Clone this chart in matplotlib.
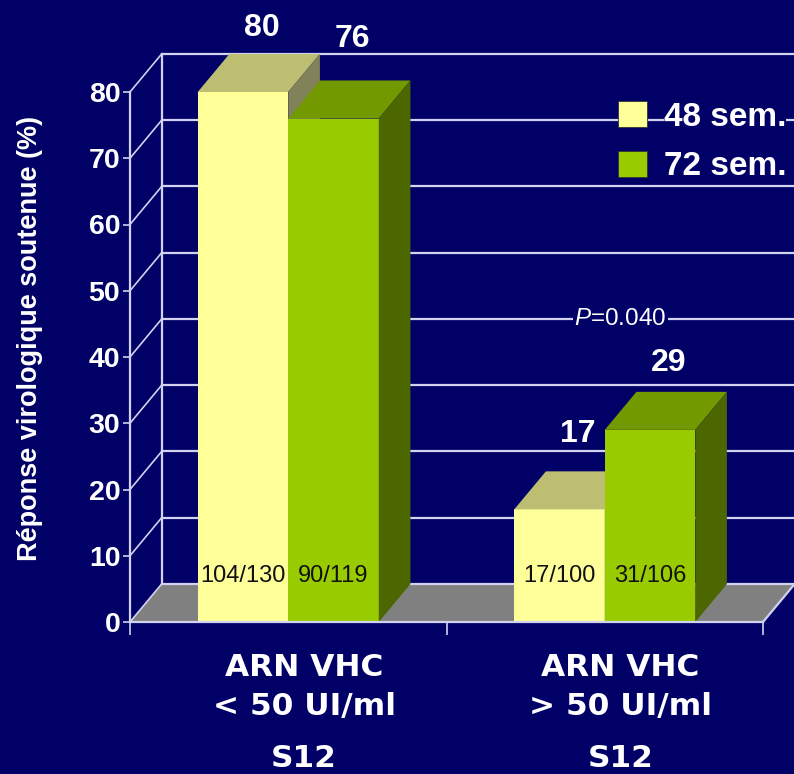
import matplotlib.pyplot as plt
from matplotlib.patches import Polygon, Patch

# response rates (%) per duration group, two viral-load groups
groups = ['ARN VHC\n< 50 UI/ml', 'ARN VHC\n> 50 UI/ml']
group_tags = ['S12', 'S12']
series = ['48 sem.', '72 sem.']
rate_48 = [80, 17]
rate_72 = [76, 29]
counts_48 = ['104/130', '17/100']
counts_72 = ['90/119', '31/106']
yticks = [0, 10, 20, 30, 40, 50, 60, 70, 80]
p_value = '0.040'

NAVY = '#000066'
LINE = '#D2D2F0'
# front, top, side shades for each series
shades = [('#FFFF99', '#BEBE73', '#82825A'),
          ('#99CC00', '#739900', '#4C6600')]
rates = [rate_48, rate_72]
counts = [counts_48, counts_72]
# label lift above the top face, in points
lift = [[8, 16], [19, 10]]

plt.rcParams['font.family'] = ['Liberation Sans', 'DejaVu Sans']
plt.rcParams['mathtext.fontset'] = 'custom'
plt.rcParams['mathtext.it'] = 'Liberation Sans:italic'
plt.rcParams['mathtext.rm'] = 'Liberation Sans'

fig = plt.figure(figsize=(7.94, 7.74), dpi=100, facecolor=NAVY)
ax = fig.add_axes([130 / 794, 152 / 774, 633 / 794, 530 / 774])
ax.set_facecolor('none')
ax.set_xlim(-0.5, 1.5)
ax.set_ylim(0, 80)

DX, DY = 0.1, 5.74   # depth offset of the pseudo-3D box
W = 0.286            # bar width

# floor
ax.add_patch(Polygon([(-0.5, 0), (1.5, 0), (1.5 + DX, DY), (-0.5 + DX, DY)],
                     closed=True, fc='#808080', ec='none', zorder=1, clip_on=False))
ax.plot([1.5, 1.5 + DX], [0, DY], color=LINE, lw=1.6, zorder=2, clip_on=False)

# back wall grid, left wall diagonals
for t in yticks:
    ax.plot([-0.5 + DX, 1.5 + DX], [t + DY, t + DY], color=LINE, lw=1.6,
            zorder=2, clip_on=False)
    ax.plot([-0.5, -0.5 + DX], [t, t + DY], color=LINE, lw=1.2,
            zorder=2, clip_on=False)
ax.plot([-0.5 + DX, -0.5 + DX], [DY, yticks[-1] + DY], color=LINE, lw=1.6,
        zorder=2, clip_on=False)

# bars: front face through ax.bar, top and side as polygons
for g in range(len(groups)):
    for s in range(len(series)):
        x0 = g - W + s * W
        x1 = x0 + W
        v = rates[s][g]
        front, top, side = shades[s]
        z = 3 + s
        ax.bar(x0, v, width=W, align='edge', color=front, zorder=z, clip_on=False)
        ax.add_patch(Polygon([(x0, v), (x1, v), (x1 + DX, v + DY), (x0 + DX, v + DY)],
                             closed=True, fc=top, ec='none', zorder=z, clip_on=False))
        ax.add_patch(Polygon([(x1, 0), (x1 + DX, DY), (x1 + DX, v + DY), (x1, v)],
                             closed=True, fc=side, ec='none', zorder=z, clip_on=False))
        ax.annotate(str(v), xy=(x0 + W / 2 + DX / 2, v + DY),
                    xytext=(2, lift[s][g]), textcoords='offset points',
                    ha='center', va='bottom', fontsize=23, fontweight='bold',
                    color='white', zorder=10, annotation_clip=False)
        ax.text(x0 + W / 2, 7, counts[s][g], ha='center', va='center',
                fontsize=17, color='#111111', zorder=10)

ax.text(1.05, 40 + DY, r'$\mathit{P}$=' + p_value, ha='center', va='center',
        fontsize=17.5, color='white', zorder=6,
        bbox=dict(fc=NAVY, ec='none', pad=1))

# axes frame
for side_name in ['top', 'right']:
    ax.spines[side_name].set_visible(False)
for side_name in ['left', 'bottom']:
    ax.spines[side_name].set_color(LINE)
    ax.spines[side_name].set_linewidth(1.6)
    ax.spines[side_name].set_zorder(8)

ax.set_yticks(yticks)
ax.tick_params(axis='y', colors=LINE, length=5, width=1.2, pad=2,
               labelsize=20.5, labelcolor='white')
for lab in ax.get_yticklabels():
    lab.set_fontweight('bold')

ax.set_xticks([-0.5, 0.5, 1.5])
ax.set_xticklabels([])
ax.tick_params(axis='x', which='major', colors=LINE, length=9, width=1.2)
# category names sit under the middle of the box depth
label_x = [g + DX / 2 for g in range(len(groups))]
ax.set_xticks(label_x, minor=True)
ax.set_xticklabels(groups, minor=True, fontfamily='DejaVu Sans',
                   fontweight='bold', fontsize=22.5, color='white', linespacing=1.47)
ax.tick_params(axis='x', which='minor', length=0, pad=22)
for x, tag in zip(label_x, group_tags):
    ax.annotate(tag, xy=(x, 0), xytext=(0, -98), textcoords='offset points',
                ha='center', va='center', fontfamily='DejaVu Sans',
                fontweight='bold', fontsize=22.5, color='white',
                annotation_clip=False)

ax.set_ylabel('Réponse virologique soutenue (%)', fontsize=19.5,
              fontweight='bold', color='white')
ax.yaxis.set_label_coords(-0.137, 0.535)

handles = [Patch(fc=shades[s][0], ec='#333333', lw=0.6) for s in range(len(series))]
leg = fig.legend(handles, series, loc='upper left', bbox_to_anchor=(618 / 794, 1 - 101 / 774),
                 frameon=False, borderpad=0, borderaxespad=0,
                 handlelength=0.88, handleheight=0.82, handletextpad=0.5,
                 labelspacing=0.55, prop=dict(size=24, weight='bold'))
for txt in leg.get_texts():
    txt.set_color('white')
    txt.set_bbox(dict(fc=NAVY, ec='none', pad=0))

fig.savefig('out.png', dpi=100, facecolor=NAVY)
